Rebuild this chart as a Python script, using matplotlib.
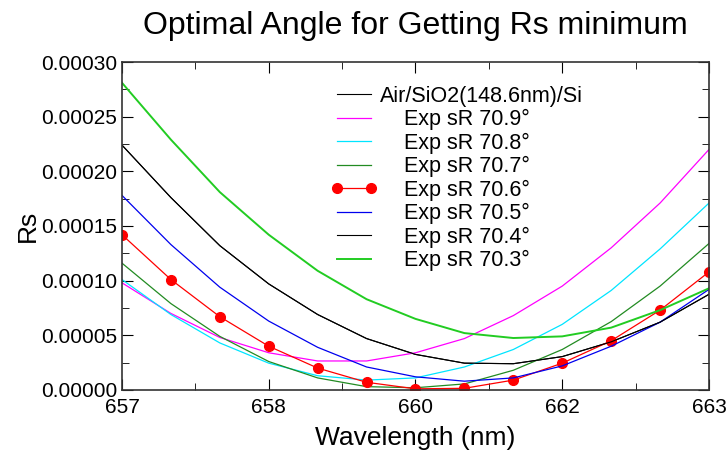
import numpy as np
import matplotlib.pyplot as plt
from matplotlib.ticker import FixedLocator, MultipleLocator, FormatStrFormatter

plt.rcParams['font.family'] = ['Liberation Sans', 'DejaVu Sans']

# wavelength grid (nm)
wl = [657.0, 657.5, 658.0, 658.5, 659.0, 659.5, 660.0,
      660.5, 661.0, 661.5, 662.0, 662.5, 663.0]

# Rs values, units of 1e-5
rs_709 = [9.8, 7.0, 4.8, 3.4, 2.65, 2.65, 3.4, 4.7, 6.8, 9.5, 13.0, 17.1, 22.0]
rs_708 = [10.1, 6.9, 4.3, 2.45, 1.3, 0.9, 1.1, 2.1, 3.7, 6.0, 9.1, 12.9, 17.1]
rs_707 = [11.6, 7.9, 4.9, 2.6, 1.1, 0.3, 0.2, 0.55, 1.8, 3.7, 6.25, 9.5, 13.4]
rs_706 = [14.2, 10.1, 6.7, 4.0, 2.0, 0.7, 0.1, 0.15, 0.9, 2.45, 4.5, 7.3, 10.8]
rs_705 = [17.8, 13.3, 9.4, 6.3, 3.9, 2.1, 1.2, 0.8, 1.1, 2.2, 4.0, 6.2, 9.2]
rs_704 = [22.4, 17.6, 13.2, 9.7, 6.9, 4.7, 3.25, 2.45, 2.4, 3.05, 4.4, 6.2, 8.75]
rs_703 = [28.1, 22.9, 18.1, 14.2, 10.9, 8.3, 6.5, 5.2, 4.75, 4.9, 5.7, 7.3, 9.3]
rs_model = rs_704

xtick_pos = [657, 658.5, 660, 661.5, 663]
xtick_labels = ['657', '658', '660', '662', '663']

wl = np.array(wl)
s = 1e-5

fig = plt.figure(figsize=(7.26, 4.55), dpi=100)
ax = fig.add_axes([0.168, 0.143, 0.8086, 0.7207])

ax.plot(wl, np.array(rs_model) * s, color='black', lw=0.8, label='Air/SiO2(148.6nm)/Si')
ax.plot(wl, np.array(rs_709) * s, color='#ff00ff', lw=0.9, label='    Exp sR 70.9°')
ax.plot(wl, np.array(rs_708) * s, color='#00e5ff', lw=0.9, label='    Exp sR 70.8°')
ax.plot(wl, np.array(rs_707) * s, color='#228b22', lw=0.9, label='    Exp sR 70.7°')
ax.plot(wl, np.array(rs_706) * s, color='red', lw=0.9, marker='o', ms=7,
        label='    Exp sR 70.6°')
ax.plot(wl, np.array(rs_705) * s, color='#0000ee', lw=0.9, label='    Exp sR 70.5°')
ax.plot(wl, np.array(rs_704) * s, color='black', lw=0.8, label='    Exp sR 70.4°')
ax.plot(wl, np.array(rs_703) * s, color='#22cc22', lw=1.4, label='    Exp sR 70.3°')

ax.set_xlim(657, 663)
ax.set_ylim(0, 0.0003)
ax.xaxis.set_major_locator(FixedLocator(xtick_pos))
ax.set_xticklabels(xtick_labels)
ax.xaxis.set_minor_locator(MultipleLocator(0.75))
ax.yaxis.set_major_locator(MultipleLocator(0.00005))
ax.yaxis.set_minor_locator(MultipleLocator(0.000025))
ax.yaxis.set_major_formatter(FormatStrFormatter('%.5f'))
ax.tick_params(which='both', direction='in', top=True, right=True, labelsize=15)
ax.tick_params(which='major', length=8)
ax.tick_params(which='minor', length=5)
ax.tick_params(axis='x', pad=6)
for sp in ax.spines.values():
    sp.set_linewidth(1.2)
    sp.set_color('#333333')

ax.set_xlabel('Wavelength (nm)', fontsize=19, labelpad=6)
ax.set_ylabel('Rs', fontsize=19, labelpad=1)
ax.set_title('Optimal Angle for Getting Rs minimum', fontsize=23, pad=20)

ax.legend(loc='upper left', bbox_to_anchor=(0.337, 0.96), frameon=False, fontsize=15.5,
          handlelength=2.2, handletextpad=0.1, labelspacing=0.11, borderpad=0,
          numpoints=2)

fig.savefig('out.png', dpi=100)
